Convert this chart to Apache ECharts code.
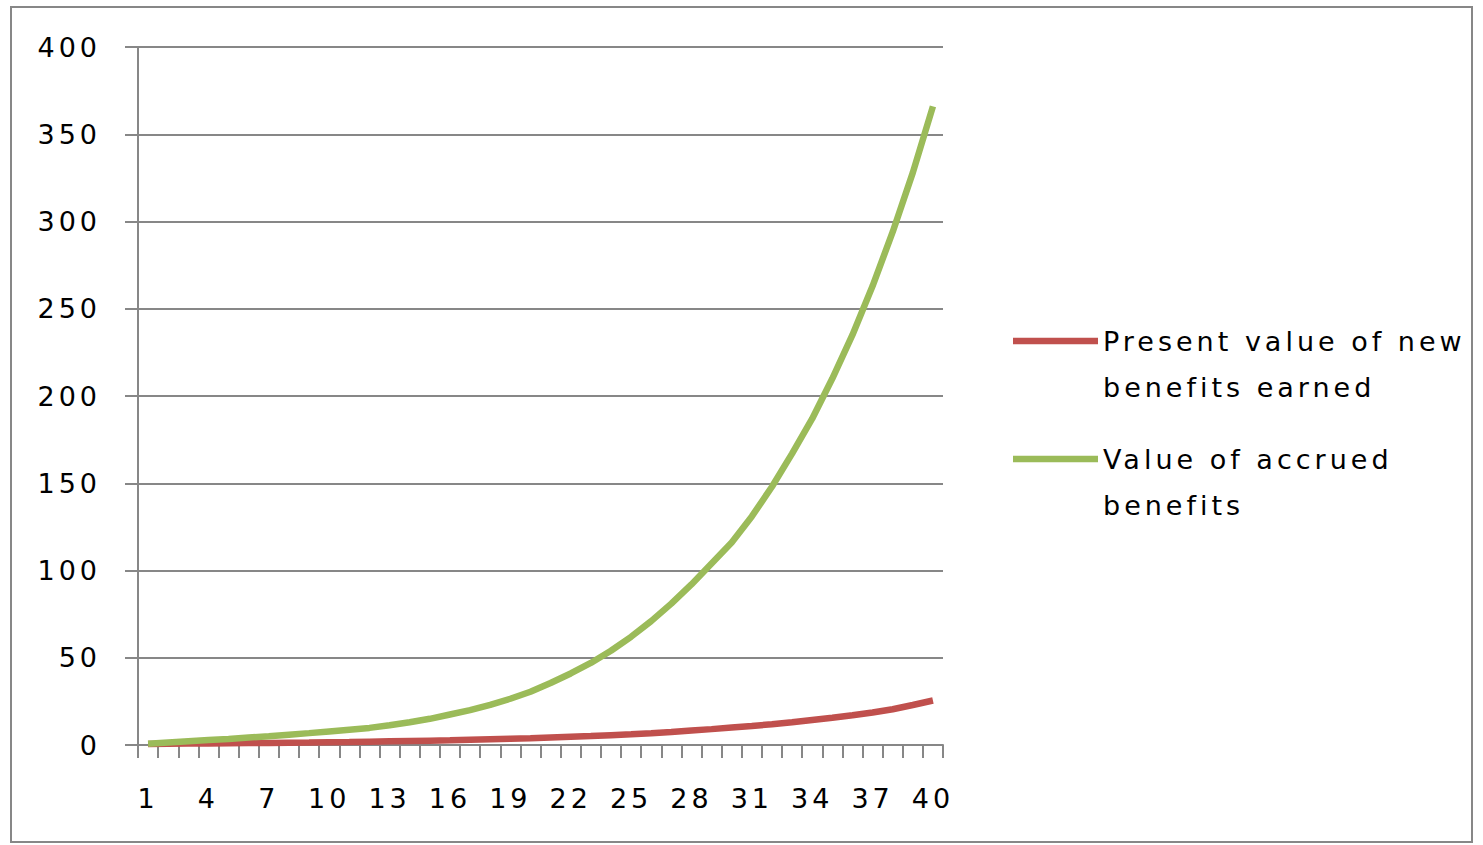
<!DOCTYPE html>
<html>
<head>
<meta charset="utf-8">
<script src="https://cdn.jsdelivr.net/npm/echarts@6/dist/echarts.min.js"></script>
<style>
  html, body { margin: 0; padding: 0; background: #fff; }
  #chart { width: 1483px; height: 845px; }
  #chart text { letter-spacing: 4px; }
</style>
</head>
<body>
<div id="chart"></div>
<script>
// Years of service (categories) and tick labels
const years = [];
for (let y = 1; y <= 40; y++) years.push(String(y));

// Present value of benefits newly earned each year
const newBenefits = [0.6, 0.7, 0.8, 0.9, 1.0, 1.1, 1.2, 1.3, 1.4, 1.6,
                     1.7, 1.9, 2.1, 2.3, 2.5, 2.7, 3.0, 3.3, 3.6, 3.9,
                     4.3, 4.7, 5.1, 5.6, 6.1, 6.7, 7.4, 8.3, 9.1, 10.0,
                     10.9, 11.9, 13.0, 14.3, 15.6, 17.0, 18.6, 20.5, 22.9, 25.5];

// Value of benefits accrued to date
const accruedBenefits = [0.7, 1.4, 2.1, 2.8, 3.5, 4.3, 5.0, 5.9, 6.8, 7.8,
                         8.8, 9.8, 11.3, 13, 15, 17.5, 20, 23, 26.5, 30.5,
                         35.5, 41, 47, 54, 62, 71, 81, 92, 104, 116,
                         131, 148, 167, 187, 210, 235, 263, 294, 328, 366];

const seriesNames = ['Present value of new benefits earned', 'Value of accrued benefits'];
// Wrapped legend text; the leading blank line keeps the first text line level with the swatch
const legendLabels = {
  'Present value of new benefits earned': '\nPresent value of new\nbenefits earned',
  'Value of accrued benefits': '\nValue of accrued\nbenefits'
};

const AXIS_GREY = '#878787';
const FONT = 'DejaVu Sans';

const chart = echarts.init(document.getElementById('chart'), null, { renderer: 'svg' });

function legendFor(name, color, top) {
  return {
    data: [{ name: name, icon: 'rect', itemStyle: { color: color } }],
    left: 1013,
    top: top,
    padding: 0,
    itemWidth: 85,
    itemHeight: 6.5,
    selectedMode: false,
    formatter: n => legendLabels[n],
    textStyle: { fontFamily: FONT, fontSize: 27, color: '#000', lineHeight: 46 }
  };
}

chart.setOption({
  animation: false,
  backgroundColor: '#fff',
  graphic: [{
    type: 'rect',
    shape: { x: 11, y: 7, width: 1461, height: 835 },
    style: { fill: 'none', stroke: '#878787', lineWidth: 2 },
    silent: true
  }],
  grid: { left: 138, right: 540, top: 47, bottom: 100 },
  legend: [
    legendFor(seriesNames[0], '#C0504D', 272),
    legendFor(seriesNames[1], '#9BBB59', 390)
  ],
  xAxis: {
    type: 'category',
    data: years,
    boundaryGap: true,
    axisLine: { lineStyle: { color: AXIS_GREY, width: 2 } },
    axisTick: { show: true, interval: 0, length: 13, lineStyle: { color: AXIS_GREY, width: 2 } },
    axisLabel: { interval: 2, margin: 40, fontFamily: FONT, fontSize: 27, color: '#000' },
    splitLine: { show: false }
  },
  yAxis: {
    type: 'value',
    min: 0, max: 400, interval: 50,
    axisLine: { show: true, lineStyle: { color: AXIS_GREY, width: 2 } },
    axisTick: { show: true, length: 13, lineStyle: { color: AXIS_GREY, width: 2 } },
    axisLabel: { margin: 37, fontFamily: FONT, fontSize: 27, color: '#000' },
    splitLine: { show: true, lineStyle: { color: AXIS_GREY, width: 2 } }
  },
  series: [
    {
      name: seriesNames[0],
      type: 'line',
      data: newBenefits,
      symbol: 'none',
      smooth: false,
      itemStyle: { color: '#C0504D' },
      lineStyle: { color: '#C0504D', width: 6.5 }
    },
    {
      name: seriesNames[1],
      type: 'line',
      data: accruedBenefits,
      symbol: 'none',
      smooth: false,
      itemStyle: { color: '#9BBB59' },
      lineStyle: { color: '#9BBB59', width: 6.5 }
    }
  ]
});
</script>
</body>
</html>
